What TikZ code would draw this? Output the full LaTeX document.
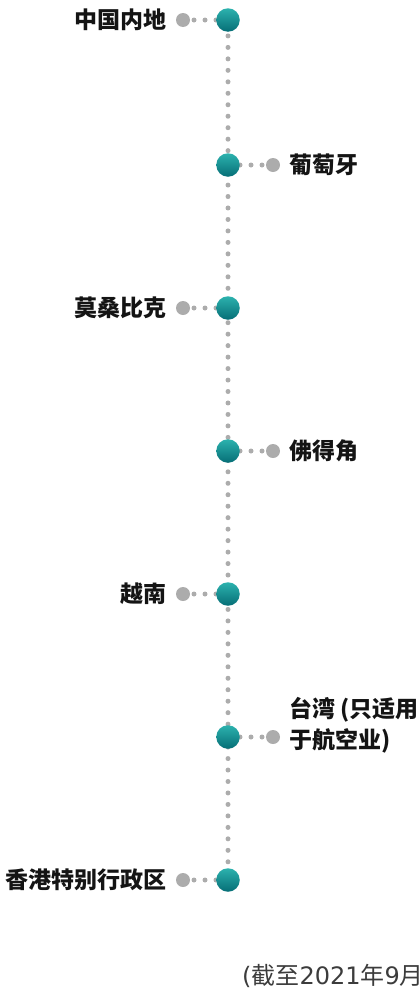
\documentclass[tikz,border=0pt]{standalone}
\usepackage{fontspec}
\setmainfont{Noto Sans CJK SC}
\newfontfamily\numfont{DejaVu Sans}
\usetikzlibrary{
    positioning,
    backgrounds
}
\definecolor{hubtop}{RGB}{44,178,174}
\definecolor{hubbot}{RGB}{6,110,118}
\definecolor{dotgray}{RGB}{172,172,172}
\definecolor{textdark}{RGB}{20,20,20}
\definecolor{notegray}{RGB}{60,60,60}

\begin{document}
\begin{tikzpicture}[
    x=1pt, y=-1pt,
    hub/.style={
        circle, inner sep=0pt, minimum size=23.5pt,
        top color=hubtop, bottom color=hubbot, draw=none
    },
    tip/.style={circle, inner sep=0pt, minimum size=14pt, fill=dotgray},
    link/.style={draw=dotgray, line width=5pt, line cap=round,
        dash pattern=on 0pt off 11pt, dash phase=10pt},
    spine/.style={link, dash pattern=on 0pt off 11.47pt, dash phase=7pt},
    place/.style={
        font=\fontsize{23}{31}\selectfont\bfseries, text=textdark,
        inner sep=0pt, align=left
    }
]
\useasboundingbox (0,0) rectangle (418,996);

% Timeline hubs
\node[hub] (cn) at (228,20)  {};
\node[hub] (pt) at (228,165) {};
\node[hub] (mz) at (228,308) {};
\node[hub] (cv) at (228,451) {};
\node[hub] (vn) at (228,594) {};
\node[hub] (tw) at (228,737) {};
\node[hub] (hk) at (228,880) {};

% Branch end dots
\node[tip] (cnend) at (183,20)  {};
\node[tip] (ptend) at (273,165) {};
\node[tip] (mzend) at (183,308) {};
\node[tip] (cvend) at (273,451) {};
\node[tip] (vnend) at (183,594) {};
\node[tip] (twend) at (273,737) {};
\node[tip] (hkend) at (183,880) {};

% Labels
\node[place, left=9pt of cnend]  (cnlbl) {中国内地};
\node[place, right=9pt of ptend] (ptlbl) {葡萄牙};
\node[place, left=9pt of mzend]  (mzlbl) {莫桑比克};
\node[place, right=9pt of cvend] (cvlbl) {佛得角};
\node[place, left=9pt of vnend]  (vnlbl) {越南};
\node[place, right=9pt of twend, yshift=12pt] (twlbl) {台湾 (只适用\\于航空业)};
\node[place, left=9pt of hkend]  (hklbl) {香港特别行政区};

% Dotted connectors
\begin{scope}[on background layer]
\draw[spine] (cn.center) -- (hk.center);
\draw[link] (cn.center) -- (cnend.center);
\draw[link] (pt.center) -- (ptend.center);
\draw[link] (mz.center) -- (mzend.center);
\draw[link] (cv.center) -- (cvend.center);
\draw[link] (vn.center) -- (vnend.center);
\draw[link] (tw.center) -- (twend.center);
\draw[link] (hk.center) -- (hkend.center);
\end{scope}

% Note
\node[anchor=base west, inner sep=0pt, text=notegray,
    font=\fontsize{24}{24}\selectfont] (note) at (242,984)
    {{\numfont(}截至{\numfont 2021}年{\numfont 9}月{\numfont)}};

\end{tikzpicture}
\end{document}
